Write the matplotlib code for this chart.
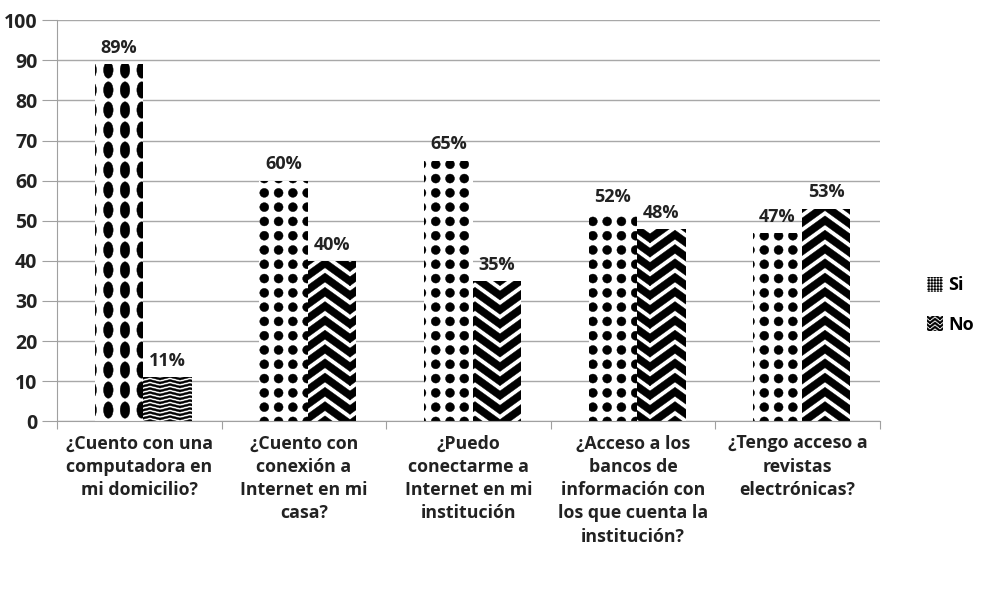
import warnings
import numpy as np
import matplotlib
matplotlib.use('Agg')
import matplotlib.pyplot as plt
from matplotlib import hatch as mhatch
from matplotlib.path import Path
from matplotlib.patches import Patch

warnings.filterwarnings('ignore')

categories = ['¿Cuento con una\ncomputadora en\nmi domicilio?',
              '¿Cuento con\nconexión a\nInternet en mi\ncasa?',
              '¿Puedo\nconectarme a\nInternet en mi\ninstitución',
              '¿Acceso a los\nbancos de\ninformación con\nlos que cuenta la\ninstitución?',
              '¿Tengo acceso a\nrevistas\nelectrónicas?']
si_values = [89, 60, 65, 52, 47]
no_values = [11, 40, 35, 48, 53]
si_hatches = ['e', 'd', 'd', 'd', 'd']
no_hatches = ['z', '^', '^', '^', '^']


# patrones de relleno propios (puntos en rejilla y chevrones)
class DotGrid(mhatch.HatchPatternBase):
    specs = {'d': (7, 7, 0.045, 0.045), 'e': (6, 5, 0.048, 0.082), 'g': (33, 33, 0.011, 0.011)}

    def __init__(self, hatch, density):
        self.spec = None
        for ch, spec in self.specs.items():
            if ch in hatch:
                self.spec = spec
        circ = Path.unit_circle()
        self.cv, self.cc = circ.vertices, circ.codes
        if self.spec is None:
            self.num_vertices = 0
        else:
            self.num_vertices = self.spec[0] * self.spec[1] * len(self.cv)

    def set_vertices_and_codes(self, vertices, codes):
        nx, ny, rx, ry = self.spec
        k = len(self.cv)
        i = 0
        for col in range(nx):
            for row in range(ny):
                cx = (col + 0.5) / nx
                cy = (row + 0.5) / ny
                vertices[i:i + k] = self.cv * [rx, ry] + [cx, cy]
                codes[i:i + k] = self.cc
                i += k


class Chevrons(mhatch.HatchPatternBase):
    # por celda: columnas, filas, subida, grosor
    specs = {'^': (2, 7, 0.18, 0.09), 'z': (5, 25, 0.025, 0.02), 'n': (10, 25, 0.04, 0.022)}

    def __init__(self, hatch, density):
        self.spec = None
        for ch, spec in self.specs.items():
            if ch in hatch:
                self.spec = spec
        if self.spec is None:
            self.num_vertices = 0
        else:
            nx, ny, a, t = self.spec
            self.rows = list(range(-int(np.ceil((a + t) * ny)) - 1, ny + 1))
            self.num_vertices = nx * len(self.rows) * 7

    def set_vertices_and_codes(self, vertices, codes):
        nx, ny, a, t = self.spec
        w = 1.0 / nx
        i = 0
        for col in range(nx):
            x0 = col * w
            for r in self.rows:
                y = r / ny
                vertices[i:i + 7] = [(x0, y), (x0 + w / 2, y + a), (x0 + w, y),
                                     (x0 + w, y + t), (x0 + w / 2, y + a + t),
                                     (x0, y + t), (x0, y)]
                codes[i:i + 7] = [Path.MOVETO] + [Path.LINETO] * 5 + [Path.CLOSEPOLY]
                i += 7


mhatch._hatch_types.extend([DotGrid, Chevrons])

plt.rcParams['font.family'] = ['Open Sans', 'DejaVu Sans']
plt.rcParams['hatch.linewidth'] = 0.3

fig = plt.figure(figsize=(9.81, 5.95), dpi=100)
ax = fig.add_axes([0.058, 0.292, 0.839, 0.674])

x = np.arange(len(categories))
w = 0.295
off = 0.025
for i in range(len(categories)):
    ax.bar(x[i] - w / 2 + off, si_values[i], w, facecolor='white', edgecolor='black',
           linewidth=0, hatch=si_hatches[i], zorder=2)
    ax.bar(x[i] + w / 2 + off, no_values[i], w, facecolor='white', edgecolor='black',
           linewidth=0, hatch=no_hatches[i], zorder=2)
    ax.text(x[i] - w / 2 + off, si_values[i] + 1.8, '{0}%'.format(si_values[i]),
            ha='center', va='bottom', fontsize=13, fontweight='bold', color='#222222')
    ax.text(x[i] + w / 2 + off, no_values[i] + 1.8, '{0}%'.format(no_values[i]),
            ha='center', va='bottom', fontsize=13, fontweight='bold', color='#222222')

ax.set_xlim(-0.5, len(categories) - 0.5)
ax.set_ylim(0, 100)
ax.set_yticks(range(0, 101, 10))
ax.yaxis.grid(True, color='#a8a8a8', linewidth=1)
ax.set_axisbelow(True)
for s in ['top', 'right']:
    ax.spines[s].set_visible(False)
ax.spines['left'].set_color('#a0a0a0')
ax.spines['bottom'].set_color('#a0a0a0')
ax.tick_params(axis='y', length=11, color='#a0a0a0', labelsize=14, labelcolor='#222222', pad=3)
for lab in ax.get_yticklabels():
    lab.set_fontweight('bold')

ax.set_xticks(np.arange(-0.5, len(categories), 1.0))
ax.set_xticklabels([])
ax.tick_params(axis='x', length=6, color='#a0a0a0')
for i, c in enumerate(categories):
    ax.text(x[i], -3.3, c, ha='center', va='top', fontsize=12.8, fontweight='bold',
            color='#222222', linespacing=1.38)

handles = [Patch(facecolor='white', edgecolor='black', linewidth=0, hatch='g'),
           Patch(facecolor='white', edgecolor='black', linewidth=0, hatch='n')]
leg = fig.legend(handles, ['Si', 'No'], loc='center left', bbox_to_anchor=(0.928, 0.487),
                 frameon=False, handlelength=0.9, handleheight=0.9, handletextpad=0.3,
                 labelspacing=1.2, prop={'weight': 'bold', 'size': 13})

fig.savefig('out.png', dpi=100, facecolor='white')
